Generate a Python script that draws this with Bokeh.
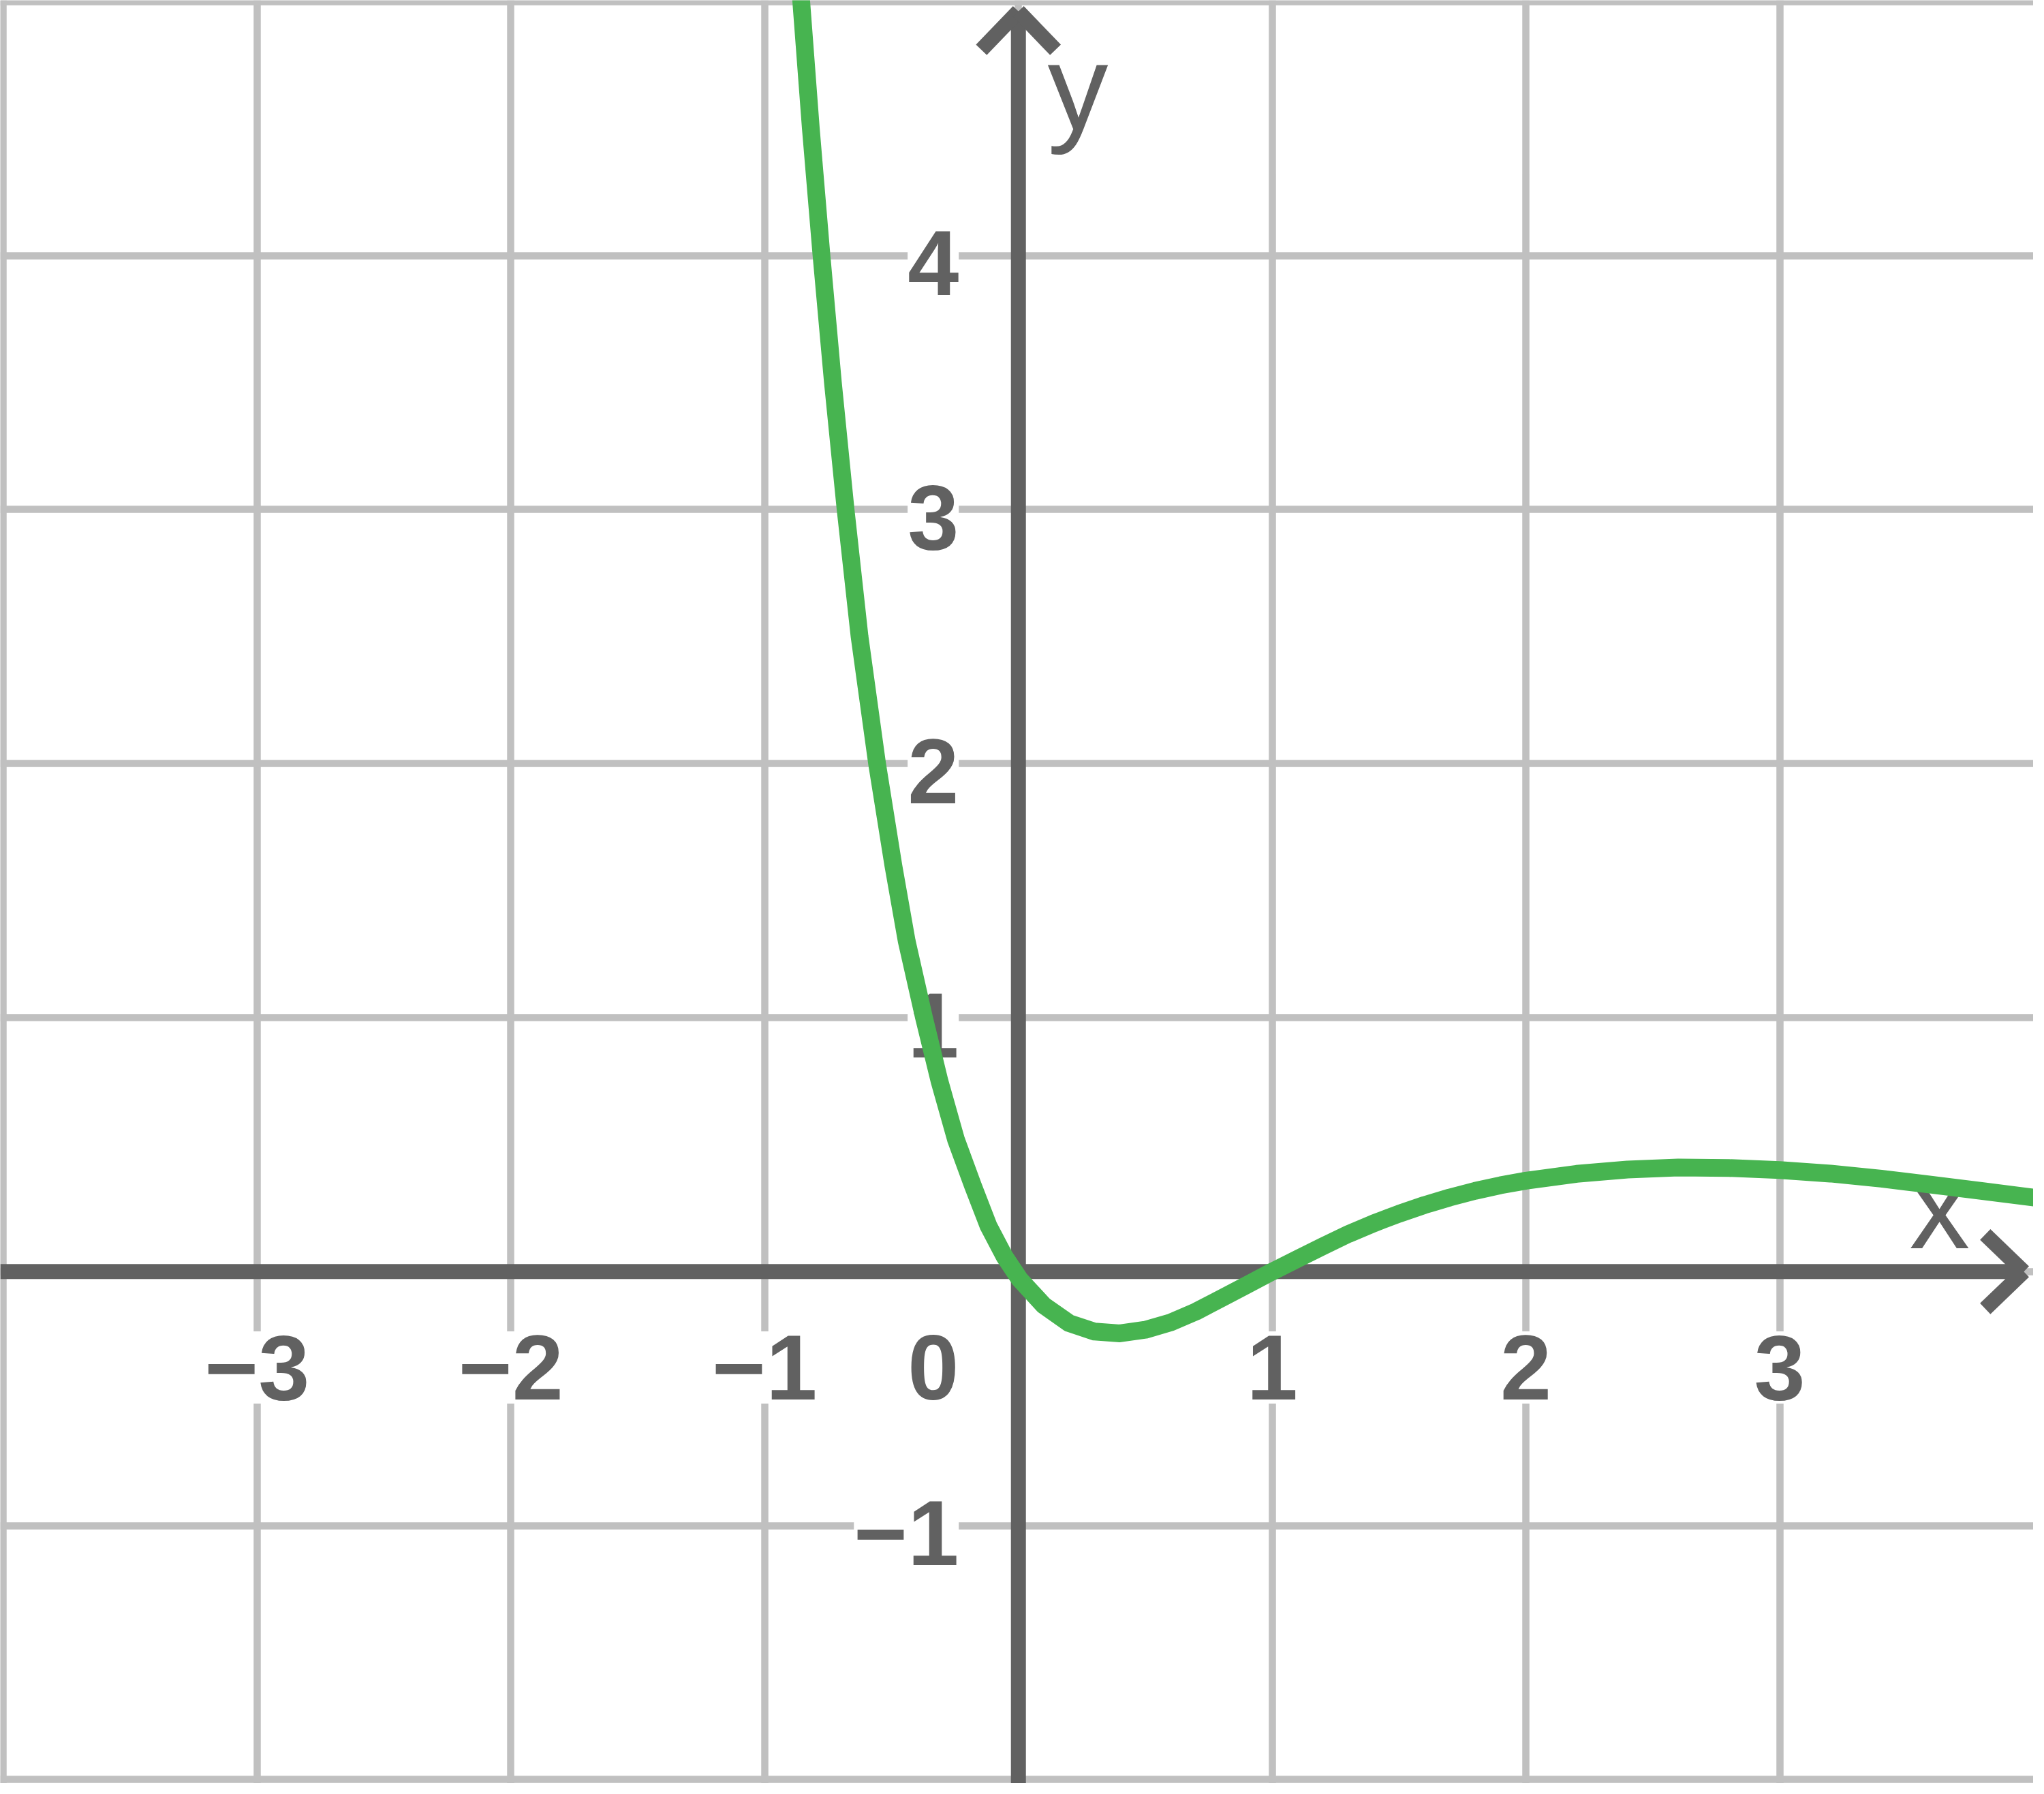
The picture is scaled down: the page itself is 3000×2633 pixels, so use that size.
from bokeh.plotting import figure
from bokeh.models import Range1d, FixedTicker, ColumnDataSource
from bokeh.core.properties import value
from bokeh.embed import file_html
from bokeh.resources import INLINE

# ---- data ----
curve_x = [-0.858, -0.818, -0.776, -0.731, -0.681, -0.626, -0.557, -0.493, -0.440,
           -0.372, -0.311, -0.246, -0.180, -0.118, -0.055, 0.005,
           0.100, 0.200, 0.300, 0.400, 0.500, 0.600, 0.700, 0.800, 0.900,
           1.000, 1.100, 1.200, 1.300, 1.400, 1.500, 1.600, 1.700, 1.800,
           1.900, 2.000, 2.200, 2.400, 2.600, 2.800, 3.000, 3.200, 3.400,
           3.600, 3.800, 4.030]
curve_y = [5.03, 4.50, 4.00, 3.50, 3.00, 2.50, 2.00, 1.60, 1.30,
           1.00, 0.75, 0.52, 0.34, 0.18, 0.06, -0.03,
           -0.133, -0.203, -0.236, -0.243, -0.229, -0.200, -0.157, -0.105, -0.053,
           0.000, 0.050, 0.100, 0.148, 0.190, 0.228, 0.262, 0.292, 0.318,
           0.340, 0.358, 0.385, 0.402, 0.410, 0.408, 0.400, 0.386, 0.366,
           0.342, 0.317, 0.288]

grid_x = [-4, -3, -2, -1, 0, 1, 2, 3, 4]
grid_y = [-2, -1, 0, 1, 2, 3, 4, 5]

x_ticks = [-3, -2, -1, 1, 2, 3]
x_tick_labels = ["\u22123", "\u22122", "\u22121", "1", "2", "3"]
y_ticks = [4, 3, 2, 1, -1]
y_tick_labels = ["4", "3", "2", "1", "\u22121"]
origin_label = "0"
x_axis_label = "x"
y_axis_label = "y"

# ---- styles ----
GRID = "#c0c0c0"
AXIS = "#616161"
CURVE = "#47b450"
FONT = value("Liberation Sans")
TICK_PX = 135
LABEL_PX = 178

p = figure(width=2984, height=2617,
           x_range=Range1d(-4.012, 4.0), y_range=Range1d(-2.015, 5.005),
           output_backend="svg", toolbar_location=None, min_border=0,
           background_fill_color="white", border_fill_color="white")
p.outline_line_color = None
p.xaxis.visible = False
p.yaxis.visible = False
p.xgrid.ticker = FixedTicker(ticks=grid_x)
p.ygrid.ticker = FixedTicker(ticks=grid_y)
for g in (p.xgrid, p.ygrid):
    g.grid_line_color = GRID
    g.grid_line_width = 10.5

# tick labels (with white knock-out background)
xl_y = -0.475
yl_x = -0.235
yl_off = -0.128
tick_shift = -0.27 * TICK_PX      # baseline correction (screen px)
label_shift = -0.28 * LABEL_PX

x_src = ColumnDataSource(dict(x=x_ticks, y=[xl_y] * len(x_ticks), t=x_tick_labels))
y_src = ColumnDataSource(dict(x=[yl_x] * len(y_ticks), y=[v + yl_off for v in y_ticks], t=y_tick_labels))
o_src = ColumnDataSource(dict(x=[yl_x], y=[xl_y], t=[origin_label]))

common = dict(text="t", text_font=FONT, text_font_style="bold", text_font_size=f"{TICK_PX}px",
              text_color=AXIS, text_baseline="alphabetic", y_offset=tick_shift,
              background_fill_color="white", padding=(0, 6))
p.text(x="x", y="y", source=x_src, text_align="center", **common)
p.text(x="x", y="y", source=y_src, text_align="right", **common)
p.text(x="x", y="y", source=o_src, text_align="right", **common)

# axis names
p.text(x=[3.63], y=[0.123], text=[x_axis_label], text_font=FONT, text_font_size=f"{LABEL_PX}px",
       text_color=AXIS, text_align="center", text_baseline="alphabetic", y_offset=label_shift)
p.text(x=[0.115], y=[4.528], text=[y_axis_label], text_font=FONT, text_font_size=f"{LABEL_PX}px",
       text_color=AXIS, text_align="left", text_baseline="alphabetic", y_offset=label_shift)

# axes with open arrow heads
AW = 22
x_tip = 3.962
y_tip = 4.962
adx, ady = 0.152, 0.146
p.segment(x0=[-4.012, 0], y0=[0, -2.015], x1=[x_tip, 0], y1=[0, y_tip],
          line_color=AXIS, line_width=AW, line_cap="butt")
p.segment(x0=[x_tip, x_tip, 0, 0], y0=[0, 0, y_tip, y_tip],
          x1=[x_tip - adx, x_tip - adx, -ady, ady], y1=[ady, -ady, y_tip - adx, y_tip - adx],
          line_color=AXIS, line_width=AW, line_cap="butt")

# curve
p.line(curve_x, curve_y, line_color=CURVE, line_width=26, line_join="round", line_cap="round")

open("out.html", "w").write(file_html(p, INLINE))
